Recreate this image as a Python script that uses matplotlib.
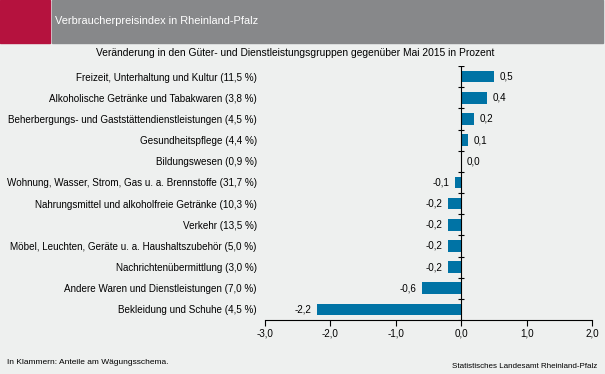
import matplotlib.pyplot as plt
import matplotlib.patches as mpatches
import numpy as np

plt.rcParams['font.family'] = ['Liberation Sans', 'DejaVu Sans']

CATEGORIES = [
    "Freizeit, Unterhaltung und Kultur (11,5 %)",
    "Alkoholische Getränke und Tabakwaren (3,8 %)",
    "Beherbergungs- und Gaststättendienstleistungen (4,5 %)",
    "Gesundheitspflege (4,4 %)",
    "Bildungswesen (0,9 %)",
    "Wohnung, Wasser, Strom, Gas u. a. Brennstoffe (31,7 %)",
    "Nahrungsmittel und alkoholfreie Getränke (10,3 %)",
    "Verkehr (13,5 %)",
    "Möbel, Leuchten, Geräte u. a. Haushaltszubehör (5,0 %)",
    "Nachrichtenübermittlung (3,0 %)",
    "Andere Waren und Dienstleistungen (7,0 %)",
    "Bekleidung und Schuhe (4,5 %)",
]
VALUES = [0.5, 0.4, 0.2, 0.1, 0.0, -0.1, -0.2, -0.2, -0.2, -0.2, -0.6, -2.2]
XTICKS = [-3.0, -2.0, -1.0, 0.0, 1.0, 2.0]

BG = "#eef0ef"
BAR = "#0073a5"
RED = "#b5123e"
GREY = "#87888a"
FS = 7.1


def de(v):
    return f"{v:.1f}".replace(".", ",")


fig = plt.figure(figsize=(6.05, 3.74), dpi=100, facecolor=BG)
W, H = 605, 374

# header band
fig.patches.append(mpatches.Rectangle((0, 1 - 43 / H), 50 / W, 43 / H,
                                      transform=fig.transFigure, color=RED))
fig.patches.append(mpatches.Rectangle((52 / W, 1 - 43 / H), 551 / W, 43 / H,
                                      transform=fig.transFigure, color=GREY))
fig.text(55 / W, 1 - 21 / H, "Verbraucherpreisindex in Rheinland-Pfalz",
         color="white", fontsize=7.9, ha="left", va="center")
fig.text(295 / W, 1 - 53 / H,
         "Veränderung in den Güter- und Dienstleistungsgruppen gegenüber Mai 2015 in Prozent",
         fontsize=7.4, ha="center", va="center")

ax = fig.add_axes([265 / W, 54 / H, 327 / W, 254 / H])
ax.set_facecolor(BG)
n = len(CATEGORIES)
y = np.arange(n)
ax.barh(y, VALUES, height=0.55, color=BAR)
ax.set_ylim(n - 0.5, -0.5)
ax.set_xlim(-3, 2)

for yi, v in zip(y, VALUES):
    if v >= 0:
        ax.annotate(de(v), (v, yi), xytext=(4, 0), textcoords="offset points",
                    ha="left", va="center", fontsize=FS)
    else:
        ax.annotate(de(v), (v, yi), xytext=(-4, 0), textcoords="offset points",
                    ha="right", va="center", fontsize=FS)

for s in ["top", "right", "left"]:
    ax.spines[s].set_visible(False)
ax.spines["bottom"].set_linewidth(0.8)

ax.set_xticks(XTICKS)
ax.set_xticklabels([de(t) for t in XTICKS], fontsize=FS)
ax.tick_params(axis="x", direction="out", length=4, width=0.8, pad=2)

ax.set_yticks(y)
ax.set_yticklabels(CATEGORIES, fontsize=FS)
ax.tick_params(axis="y", length=0, pad=6)

# zero line with category boundary ticks
ax.axvline(0, color="black", linewidth=0.8)
bounds = np.arange(-0.5, n, 1.0)
ax.hlines(bounds, -0.045, 0.045, color="black", linewidth=0.8)

fig.text(7 / W, 1 - 363 / H, "In Klammern: Anteile am Wägungsschema.",
         fontsize=6.0, ha="left", va="center")
fig.text(597 / W, 1 - 366 / H, "Statistisches Landesamt Rheinland-Pfalz",
         fontsize=5.8, ha="right", va="center")

fig.savefig("out.png", dpi=100, facecolor=BG)
